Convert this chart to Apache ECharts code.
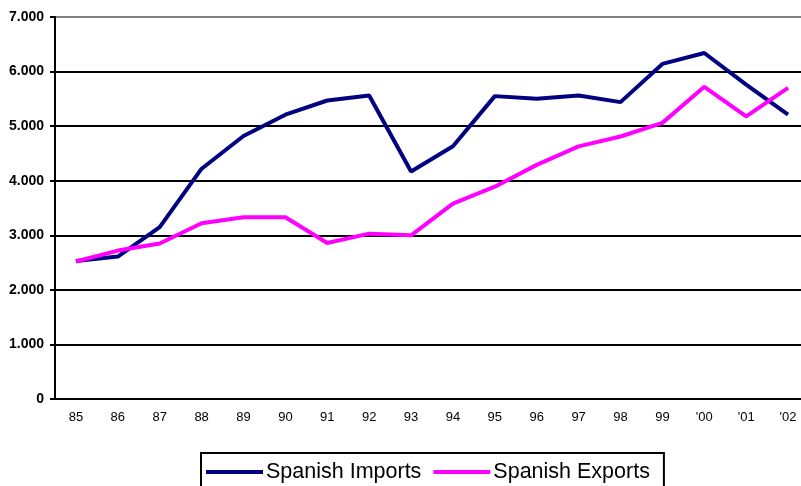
<!DOCTYPE html>
<html>
<head>
<meta charset="utf-8">
<script src="https://cdn.jsdelivr.net/npm/echarts@6/dist/echarts.min.js"></script>
<style>
  html, body { margin: 0; padding: 0; background: #fff; }
  #chart { width: 801px; height: 486px; }
</style>
</head>
<body>
<div id="chart"></div>
<script>
const years = ['85', '86', '87', '88', '89', '90', '91', '92', '93', '94',
    '95', '96', '97', '98', '99', "'00", "'01", "'02"];
const imports = [2530, 2610, 3150, 4220, 4820, 5210, 5470, 5560, 4170, 4630,
    5550, 5500, 5560, 5440, 6140, 6340, 5760, 5210];
const exports = [2520, 2720, 2850, 3220, 3330, 3330, 2860, 3030, 3000, 3580,
    3890, 4290, 4630, 4810, 5060, 5720, 5180, 5700];

const font = "'Liberation Sans', Arial, sans-serif";

function fmt(v) {
    if (v === 0) return '0';
    return String(v).replace(/\B(?=(\d{3})+(?!\d))/g, '.');
}

let chart = echarts.init(document.getElementById('chart'));
chart.setOption({
    animation: false,
    backgroundColor: '#fff',
    grid: {
        left: 55,
        width: 754,
        top: 17,
        bottom: 87,
        outerBoundsMode: 'none',
    },
    legend: {
        left: 201,
        top: 453,
        padding: [8, 14, 10, 5],
        borderColor: '#000',
        borderWidth: 2,
        itemWidth: 57,
        itemHeight: 4,
        itemGap: 12,
        icon: 'rect',
        textStyle: {
            fontFamily: font,
            fontSize: 21.5,
            color: '#000',
            padding: [0, 0, 0, -2],
        },
        data: ['Spanish Imports', 'Spanish Exports'],
    },
    xAxis: {
        type: 'category',
        data: years,
        boundaryGap: true,
        axisLine: { lineStyle: { color: '#000', width: 2 } },
        axisTick: { length: 5, lineStyle: { color: '#000', width: 2 } },
        axisLabel: {
            margin: 12,
            fontFamily: font,
            fontSize: 13,
            color: '#000',
        },
    },
    yAxis: {
        type: 'value',
        min: 0,
        max: 7000,
        interval: 1000,
        axisLine: { show: true, lineStyle: { color: '#000', width: 2 } },
        axisTick: { show: true, length: 5, lineStyle: { color: '#000', width: 2 } },
        axisLabel: {
            margin: 11,
            fontFamily: font,
            fontSize: 14,
            fontWeight: 'bold',
            color: '#000',
            formatter: fmt,
        },
        splitLine: {
            lineStyle: {
                width: 2,
                color: ['#000', '#000', '#000', '#000', '#000', '#000', '#000', '#808080'],
            },
        },
    },
    series: [
        {
            name: 'Spanish Imports',
            type: 'line',
            data: imports,
            symbol: 'none',
            itemStyle: { color: '#000080' },
            lineStyle: { color: '#000080', width: 4 },
        },
        {
            name: 'Spanish Exports',
            type: 'line',
            data: exports,
            symbol: 'none',
            itemStyle: { color: '#ff00ff' },
            lineStyle: { color: '#ff00ff', width: 4 },
        },
    ],
});
</script>
</body>
</html>
